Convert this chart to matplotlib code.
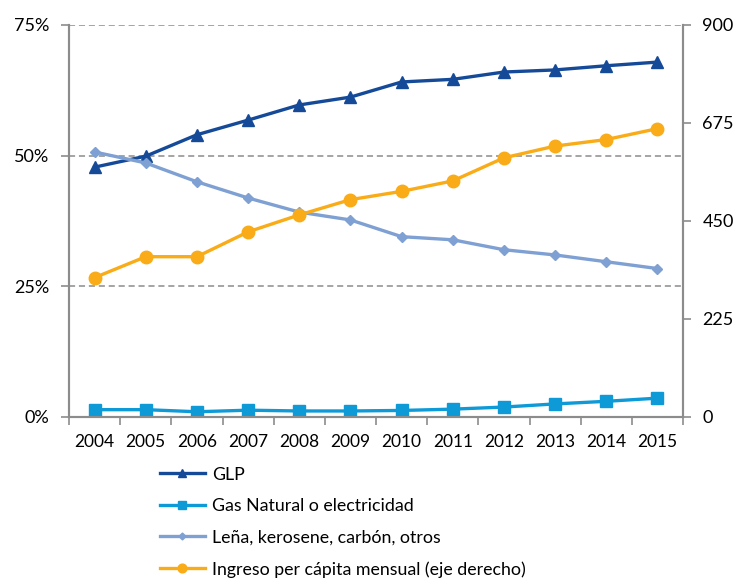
import numpy as np
import matplotlib
matplotlib.use("Agg")
import matplotlib.pyplot as plt

plt.rcParams['font.family'] = ['Lato', 'DejaVu Sans']

years = ['2004', '2005', '2006', '2007', '2008', '2009',
         '2010', '2011', '2012', '2013', '2014', '2015']

# shares of households by cooking fuel (%)
glp = [47.8, 49.9, 54.0, 56.8, 59.7, 61.2, 64.1, 64.6, 66.0, 66.4, 67.2, 67.9]
gas_elec = [1.4, 1.4, 1.0, 1.3, 1.15, 1.15, 1.25, 1.5, 1.9, 2.5, 3.0, 3.6]
lena = [50.7, 48.6, 45.0, 41.9, 39.2, 37.7, 34.5, 33.9, 32.0, 31.0, 29.7, 28.4]
# monthly income per capita (right axis)
ingreso = [320, 368, 368, 425, 464, 499, 518, 542, 595, 622, 637, 662]

left_ticks = [0, 25, 50, 75]
left_labels = ['0%', '25%', '50%', '75%']
right_ticks = [0, 225, 450, 675, 900]

c_glp = '#154A98'
c_gas = '#0E9AD7'
c_lena = '#7FA0D2'
c_ing = '#F9AC17'
c_axis = '#8C8C8C'

fig = plt.figure(figsize=(7.38, 5.81), dpi=100)
ax = fig.add_axes([0.0935, 0.2823, 0.832, 0.6747])
ax2 = ax.twinx()

x = np.arange(len(years))

l1, = ax.plot(x, glp, color=c_glp, lw=2.4, marker='^', ms=8, label='GLP')
l2, = ax.plot(x, gas_elec, color=c_gas, lw=2.4, marker='s', ms=8,
              label='Gas Natural o electricidad')
l3, = ax.plot(x, lena, color=c_lena, lw=2.4, marker='D', ms=5,
              label='Leña, kerosene, carbón, otros')
l4, = ax2.plot(x, ingreso, color=c_ing, lw=2.4, marker='o', ms=9,
               label='Ingreso per cápita mensual (eje derecho)')

ax.set_xlim(-0.5, len(years) - 0.5)
ax.set_ylim(0, 75)
ax2.set_ylim(0, 900)

ax.set_yticks(left_ticks)
ax.set_yticklabels(left_labels)
ax2.set_yticks(right_ticks)

# dashed gridlines at 25/50/75
for v in left_ticks[1:]:
    ax.axhline(v, color=c_axis, lw=1.1, ls=(0, (4, 2.5)), zorder=0)

ax.set_xticks(x)
ax.set_xticklabels(years)
ax.set_xticks(np.arange(-0.5, len(years)), minor=True)
ax.tick_params(axis='x', which='major', length=0, pad=12, labelsize=12.5)
ax.tick_params(axis='x', which='minor', length=6, width=1.2, color=c_axis)
ax.tick_params(axis='y', length=6, width=1.2, color=c_axis, labelsize=13, pad=8)
ax2.tick_params(axis='y', length=6, width=1.2, color=c_axis, labelsize=13, pad=8)

for a in (ax, ax2):
    a.spines['top'].set_visible(False)
    for s in ('left', 'right', 'bottom'):
        a.spines[s].set_color(c_axis)
        a.spines[s].set_linewidth(1.5)

fig.legend(handles=[l1, l2, l3, l4], loc='upper left',
           bbox_to_anchor=(0.217, 0.197), frameon=False, fontsize=12.8,
           handlelength=2.5, handletextpad=0.4, labelspacing=0.87,
           borderpad=0, borderaxespad=0, markerscale=0.7)

fig.savefig('out.png', dpi=100)
